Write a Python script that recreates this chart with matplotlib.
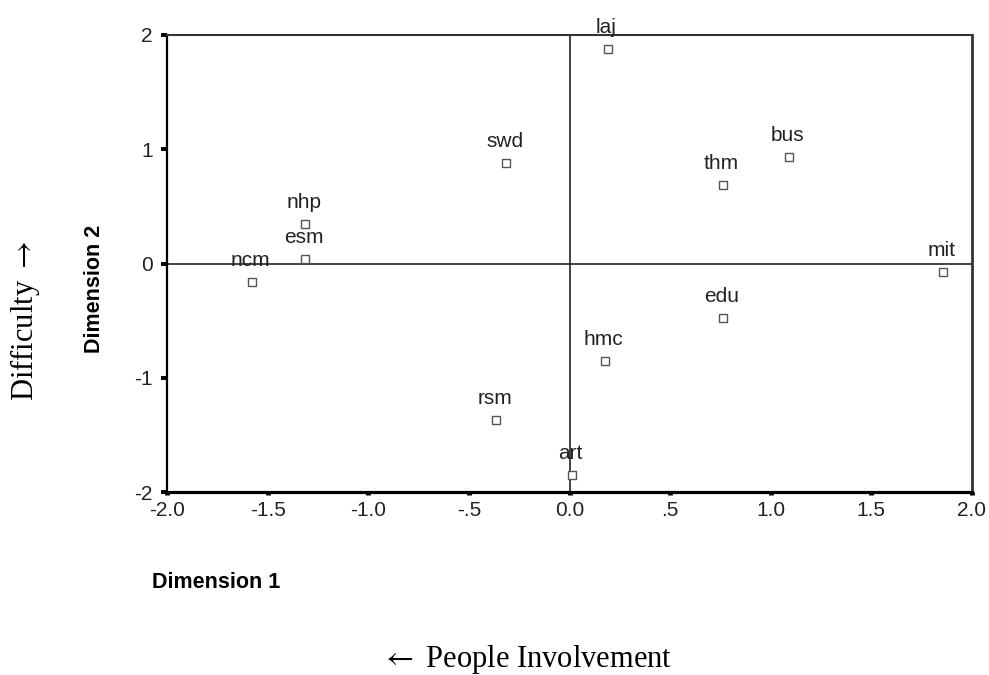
import matplotlib
matplotlib.use("Agg")
import matplotlib.pyplot as plt

labels = ["laj", "swd", "thm", "bus", "mit", "edu", "nhp", "esm", "ncm", "hmc", "rsm", "art"]
dim1 = [0.19, -0.315, 0.763, 1.09, 1.854, 0.763, -1.313, -1.313, -1.58, 0.174, -0.365, 0.011]
dim2 = [1.88, 0.88, 0.684, 0.936, -0.076, -0.476, 0.342, 0.041, -0.16, -0.857, -1.368, -1.85]

xticks = [-2.0, -1.5, -1.0, -0.5, 0.0, 0.5, 1.0, 1.5, 2.0]
xticklabels = ["-2.0", "-1.5", "-1.0", "-.5", "0.0", ".5", "1.0", "1.5", "2.0"]
yticks = [-2, -1, 0, 1, 2]
yticklabels = ["-2", "-1", "0", "1", "2"]

sans = "Liberation Sans"
serif = ["Liberation Serif", "DejaVu Serif"]

fig = plt.figure(figsize=(9.89, 6.75), dpi=100)
ax = fig.add_axes([167/989, 1 - 492/675, (972-167)/989, (492-35)/675])

ax.axhline(0, color="#222222", lw=1.2, zorder=1)
ax.axvline(0, color="#222222", lw=1.2, zorder=1)

ax.plot(dim1, dim2, linestyle="none", marker="s", markersize=5.2,
        markerfacecolor="white", markeredgecolor="#555555", markeredgewidth=1.0, zorder=3)
for lab, x, y in zip(labels, dim1, dim2):
    ax.annotate(lab, (x, y), xytext=(-1, 11.5), textcoords="offset points",
                ha="center", va="baseline", fontsize=15, family=sans, color="#222222", zorder=4)

ax.set_xlim(-2.0, 2.0)
ax.set_ylim(-2.0, 2.0)
ax.set_xticks(xticks)
ax.set_xticklabels(xticklabels, family=sans, fontsize=15, color="#222222")
ax.set_yticks(yticks)
ax.set_yticklabels(yticklabels, family=sans, fontsize=15, color="#222222")
ax.tick_params(axis="x", direction="out", length=2.5, width=3.5, pad=4, color="black")
ax.tick_params(axis="y", direction="out", length=4.3, width=2.8, pad=6, color="black")

ax.spines["bottom"].set_linewidth(2.3)
ax.spines["bottom"].set_color("black")
ax.spines["left"].set_linewidth(1.6)
ax.spines["left"].set_color("black")
ax.spines["top"].set_linewidth(1.5)
ax.spines["top"].set_color("#333333")
ax.spines["right"].set_linewidth(2.0)
ax.spines["right"].set_color("#333333")

fig.text(152/989, 1 - 583/675, "Dimension 1", family=sans, fontweight="bold",
         fontsize=15.5, ha="left", va="center")
fig.text(94/989, 1 - 289/675, "Dimension 2", family=sans, fontweight="bold",
         fontsize=15.5, ha="center", va="center", rotation=90)

fig.text(25/989, 1 - 321/675, r"Difficulty $\rightarrow$", family=serif,
         math_fontfamily="stix", fontsize=22, ha="center", va="center", rotation=90)
fig.text(527/989, 1 - 659/675, r"$\leftarrow$ People Involvement", family=serif,
         math_fontfamily="stix", fontsize=22, ha="center", va="center")

fig.savefig("out.png", dpi=100)
